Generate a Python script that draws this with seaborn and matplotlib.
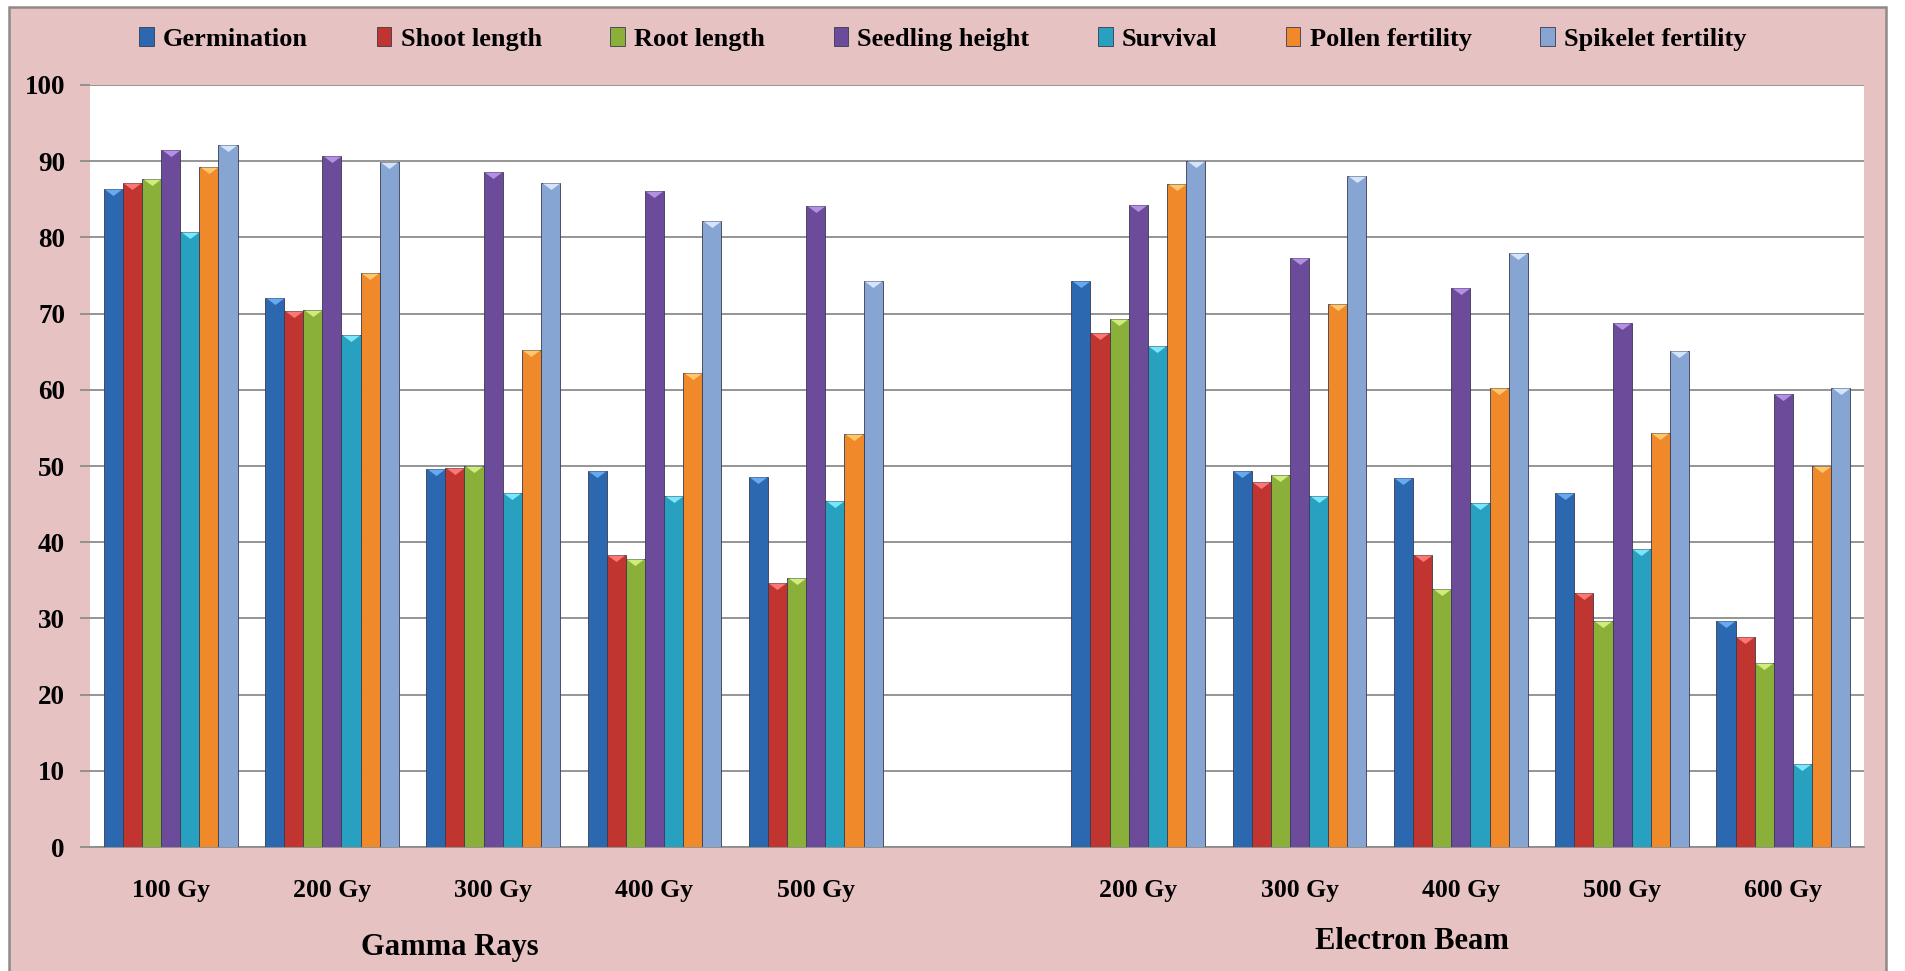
import numpy as np
import pandas as pd
import matplotlib
matplotlib.use("Agg")
import matplotlib.pyplot as plt
from matplotlib.patches import Rectangle
import seaborn as sns

# ---------------- data ----------------
tick_labels = ["100 Gy", "200 Gy", "300 Gy", "400 Gy", "500 Gy", "",
               "200 Gy", "300 Gy", "400 Gy", "500 Gy", "600 Gy"]
gamma_doses = ["100 Gy", "200 Gy", "300 Gy", "400 Gy", "500 Gy"]
eb_doses = ["200 Gy", "300 Gy", "400 Gy", "500 Gy", "600 Gy"]
traits = ["Germination", "Shoot length", "Root length", "Seedling height",
          "Survival", "Pollen fertility", "Spikelet fertility"]

germination_gamma = [86.4, 72.0, 49.6, 49.4, 48.6]
germination_eb = [74.3, 49.4, 48.4, 46.4, 29.6]
shoot_gamma = [87.1, 70.3, 49.7, 38.3, 34.6]
shoot_eb = [67.4, 47.9, 38.3, 33.3, 27.5]
root_gamma = [87.6, 70.5, 50.0, 37.8, 35.3]
root_eb = [69.3, 48.8, 33.8, 29.7, 24.1]
seedling_gamma = [91.5, 90.7, 88.6, 86.1, 84.1]
seedling_eb = [84.2, 77.3, 73.3, 68.8, 59.5]
survival_gamma = [80.7, 67.2, 46.4, 46.0, 45.4]
survival_eb = [65.8, 46.0, 45.2, 39.1, 10.9]
pollen_gamma = [89.2, 75.3, 65.2, 62.2, 54.2]
pollen_eb = [87.0, 71.3, 60.2, 54.3, 50.0]
spikelet_gamma = [92.1, 89.9, 87.1, 82.1, 74.3]
spikelet_eb = [90.0, 88.1, 78.0, 65.1, 60.2]

colors = ["#2C68B0", "#C0352F", "#8BB03A", "#6C4C9A", "#28A1C0", "#F0892A", "#87A5D3"]
tops = ["#6AAEF5", "#FF7C78", "#D4F080", "#B894E8", "#7EEBFF", "#FFCB70", "#D8E9FF"]

gamma_series = [germination_gamma, shoot_gamma, root_gamma, seedling_gamma,
                survival_gamma, pollen_gamma, spikelet_gamma]
eb_series = [germination_eb, shoot_eb, root_eb, seedling_eb,
             survival_eb, pollen_eb, spikelet_eb]

slots = ["G " + d for d in gamma_doses] + ["gap"] + ["E " + d for d in eb_doses]
rows = []
for t, gv, ev in zip(traits, gamma_series, eb_series):
    for d, v in zip(gamma_doses, gv):
        rows.append(("G " + d, t, v))
    for d, v in zip(eb_doses, ev):
        rows.append(("E " + d, t, v))
df = pd.DataFrame(rows, columns=["slot", "trait", "value"])

# ---------------- style ----------------
sns.set_style("white")
plt.rcParams["font.family"] = ["Liberation Serif", "DejaVu Serif"]
plt.rcParams["font.weight"] = "bold"
plt.rcParams["text.color"] = "black"
plt.rcParams["xtick.color"] = "black"
plt.rcParams["ytick.color"] = "black"

W, H = 1905, 971
fig = plt.figure(figsize=(W / 100, H / 100), dpi=100)
fig.patch.set_facecolor("white")
bg = Rectangle((9 / W, -0.02), (1886 - 9) / W, 1.02 - 7 / H,
               transform=fig.transFigure, facecolor="#E6C2C3",
               edgecolor="#8E8A8A", linewidth=1.8, zorder=-10)
fig.patches.append(bg)

ax = fig.add_axes([90 / W, (H - 847) / H, (1864 - 90) / W, (847 - 85) / H])
ax.set_zorder(5)
ax.set_facecolor("white")

sns.barplot(data=df, x="slot", y="value", hue="trait", order=slots,
            hue_order=traits, palette=colors, width=0.83, saturation=1,
            edgecolor="#3a3a50", linewidth=0.6, ax=ax, zorder=3)

# bevel triangles on bar tops (wide, flat downward triangle)
tri = [(-1.0, 0.0), (1.0, 0.0), (0.0, -0.75), (-1.0, 0.0)]
bars = [p for p in ax.patches if p.get_height() > 0]
n_per = len(bars) // len(traits) if bars else 0
for i, p in enumerate(bars):
    k = min(i // max(n_per, 1), len(traits) - 1)
    cx = p.get_x() + p.get_width() / 2
    ax.plot([cx], [p.get_height()], marker=tri, markersize=12.5,
            color=tops[k], markeredgewidth=0, zorder=4, alpha=0.95)

ax.set_ylim(0, 100)
ax.set_xlim(-0.5, len(slots) - 0.5)
ax.set_yticks(np.arange(0, 101, 10))
ax.yaxis.grid(True, color="#8C8C8C", linewidth=1.3, zorder=0)
ax.set_axisbelow(True)
for s in ["top", "right", "left"]:
    ax.spines[s].set_visible(False)
ax.spines["bottom"].set_color("#8C8C8C")
ax.spines["bottom"].set_linewidth(1.3)

ax.set_xticks(range(len(slots)))
ax.set_xticklabels(tick_labels, fontsize=18.5, fontweight="bold")
ax.set_xticks(np.arange(-0.5, len(slots), 1.0), minor=True)
ax.tick_params(axis="x", which="major", length=0, pad=23, labelcolor="black")
ax.tick_params(axis="x", which="minor", length=9, color="#8C8C8C", width=1.3, direction="out")
ax.tick_params(axis="y", length=7, color="#8C8C8C", width=1.3, pad=11,
               labelsize=19.5, left=True, labelcolor="black")
for lab in ax.get_yticklabels():
    lab.set_fontweight("bold")
ax.set_xlabel("")
ax.set_ylabel("")

fig.text(450 / W, 1 - 947 / H, "Gamma Rays", ha="center", va="center",
         fontsize=22, fontweight="bold", color="black")
fig.text(1412 / W, 1 - 941 / H, "Electron Beam", ha="center", va="center",
         fontsize=22, fontweight="bold", color="black")

sns.move_legend(ax, "center", bbox_to_anchor=(0.495, 1 - 39 / H),
                bbox_transform=fig.transFigure, ncol=7, frameon=False, title=None,
                prop={"size": 19, "weight": "bold"}, handlelength=0.55,
                handleheight=0.75, handletextpad=0.35, columnspacing=2.6)
for t in ax.get_legend().get_texts():
    t.set_color("black")

fig.savefig("out.png", dpi=100, facecolor=fig.get_facecolor())
